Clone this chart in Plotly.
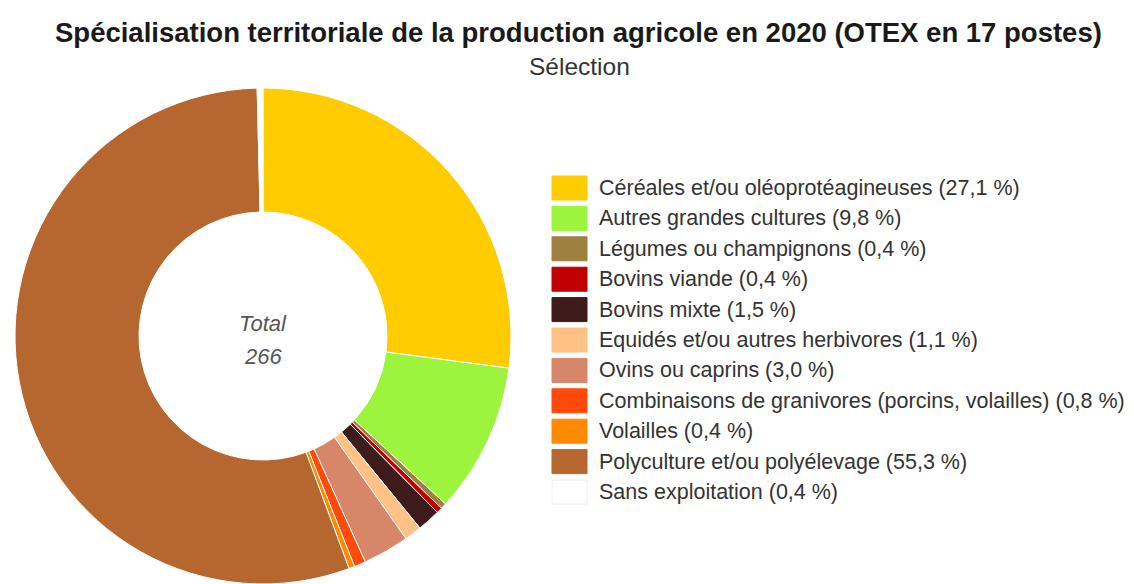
import plotly.graph_objects as go

# Number of communes per dominant agricultural orientation (OTEX), 2020
categories = [
    "Céréales et/ou oléoprotéagineuses",
    "Autres grandes cultures",
    "Légumes ou champignons",
    "Bovins viande",
    "Bovins mixte",
    "Equidés et/ou autres herbivores",
    "Ovins ou caprins",
    "Combinaisons de granivores (porcins, volailles)",
    "Volailles",
    "Polyculture et/ou polyélevage",
    "Sans exploitation",
]
counts = [72, 26, 1, 1, 4, 3, 8, 2, 1, 147, 1]
colors = [
    "#FFCC00", "#9CF53C", "#9E8040", "#C00000", "#3E1C1C", "#FFC285",
    "#D8866A", "#FF4A0A", "#FF8A00", "#B5672F", "#FFFFFF",
]

total = sum(counts)
W, H = 1134, 584


def fr_pct(v):
    return f"{100 * v / total:.1f}".replace(".", ",") + " %"


legend_labels = [f"{c} ({fr_pct(v)})" for c, v in zip(categories, counts)]

fig = go.Figure()
fig.add_trace(go.Pie(
    labels=categories,
    values=counts,
    marker=dict(colors=colors, line=dict(color="#FFFFFF", width=1)),
    hole=0.5,
    sort=False,
    direction="clockwise",
    rotation=0,
    textinfo="none",
    showlegend=False,
    domain=dict(x=[15 / W, 511 / W], y=[0, 1 - 88 / H]),
))

# Hand-drawn legend: coloured swatches with labels
x0, x1 = 552, 587
y_first, step, sw_h = 188, 30.4, 24
shapes, annotations = [], []
for i, (lab, col) in enumerate(zip(legend_labels, colors)):
    yc = y_first + i * step
    shapes.append(dict(
        type="rect", xref="paper", yref="paper",
        x0=x0 / W, x1=x1 / W,
        y0=1 - (yc + sw_h / 2) / H, y1=1 - (yc - sw_h / 2) / H,
        fillcolor=col,
        line=dict(color="#EEEEEE" if col == "#FFFFFF" else col, width=1),
    ))
    annotations.append(dict(
        text=lab, xref="paper", yref="paper",
        x=597 / W, y=1 - yc / H, xanchor="left", yanchor="middle",
        showarrow=False, font=dict(size=21.5, color="#333333"),
    ))

# Centre label
for txt, yc in (("Total", 323), (str(total), 357)):
    annotations.append(dict(
        text=f"<i>{txt}</i>", xref="paper", yref="paper",
        x=263 / W, y=1 - yc / H, xanchor="center", yanchor="middle",
        showarrow=False, font=dict(size=22, color="#555555"),
    ))

# Title and subtitle
annotations.append(dict(
    text="<b>Spécialisation territoriale de la production agricole en 2020 (OTEX en 17 postes)</b>",
    xref="paper", yref="paper", x=578 / W, y=1 - 33 / H,
    xanchor="center", yanchor="middle", showarrow=False,
    font=dict(size=27.5, color="#1A1A1A"),
))
annotations.append(dict(
    text="Sélection", xref="paper", yref="paper", x=579 / W, y=1 - 66 / H,
    xanchor="center", yanchor="middle", showarrow=False,
    font=dict(size=24.5, color="#333333"),
))

fig.update_layout(
    width=W, height=H,
    margin=dict(l=0, r=0, t=0, b=0),
    paper_bgcolor="#FFFFFF",
    plot_bgcolor="#FFFFFF",
    font=dict(family="Liberation Sans, Arial, sans-serif"),
    shapes=shapes,
    annotations=annotations,
)

fig.write_html("out.html")
